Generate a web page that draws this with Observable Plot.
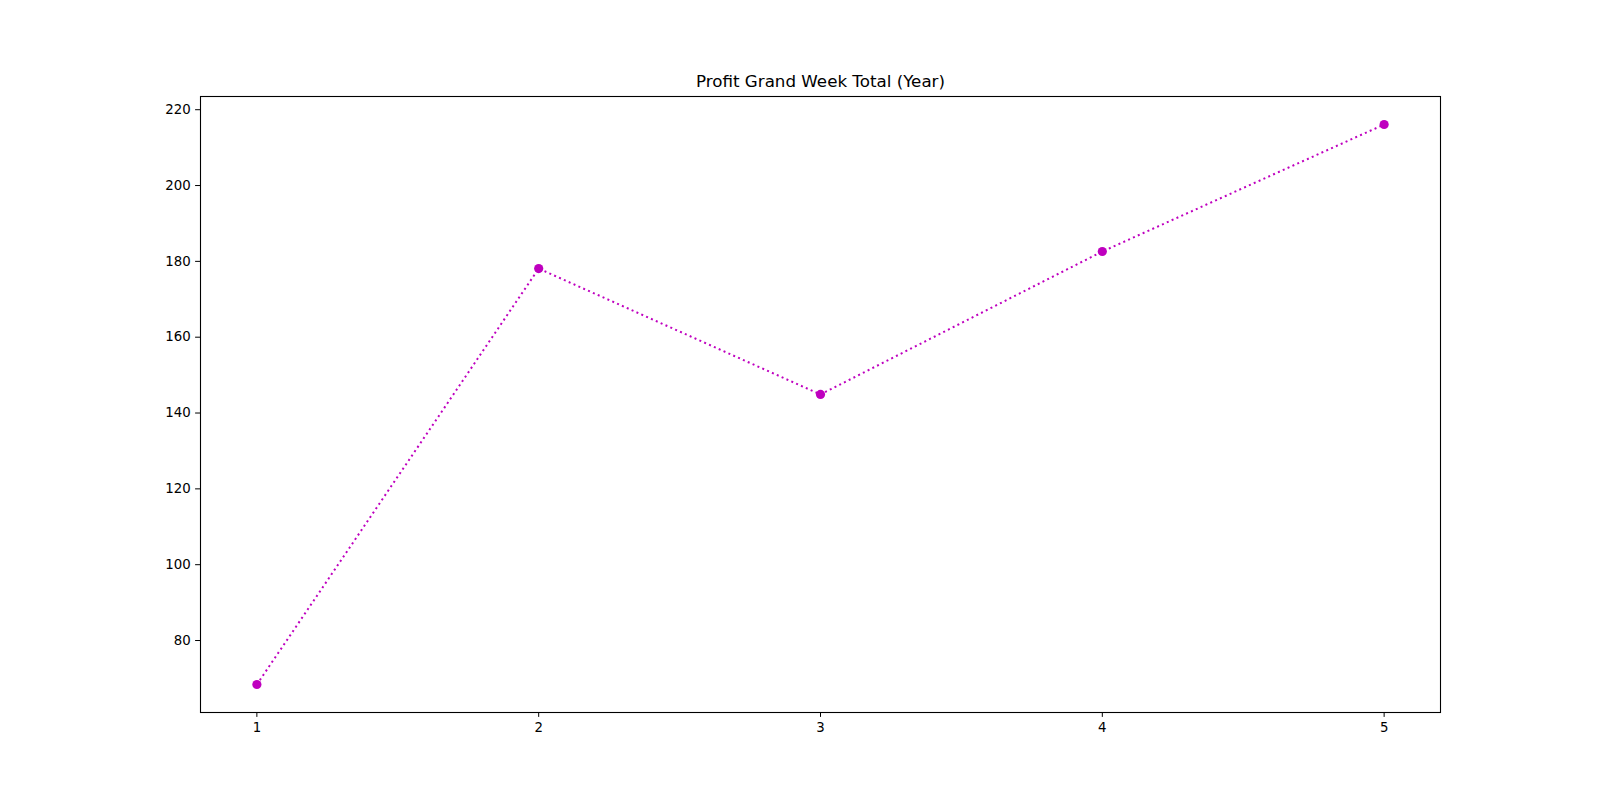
<!DOCTYPE html>
<html>
<head>
<meta charset="utf-8">
<script src="https://cdn.jsdelivr.net/npm/d3@7"></script>
<script src="https://cdn.jsdelivr.net/npm/@observablehq/plot@0.6"></script>
<style>
  html, body { margin: 0; padding: 0; background: #fff; }
  #chart svg { display: block; }
</style>
</head>
<body>
<div id="chart"></div>
<script>
const weeks = [1, 2, 3, 4, 5];
const profit = [68.4, 178.1, 144.9, 182.6, 216.1];
const xTicks = [1, 2, 3, 4, 5];
const yTicks = [80, 100, 120, 140, 160, 180, 200, 220];
const title = "Profit Grand Week Total (Year)";

const data = weeks.map((w, i) => ({week: w, profit: profit[i]}));

const [ymin, ymax] = d3.extent(profit);
const ypad = (ymax - ymin) * 0.05;
const [xmin, xmax] = d3.extent(weeks);
const xpad = (xmax - xmin) * 0.05;

const color = "#bf00bf";

const chart = Plot.plot({
  width: 1600,
  height: 800,
  marginLeft: 200,
  marginRight: 160,
  marginTop: 96,
  marginBottom: 88,
  style: {fontFamily: "DejaVu Sans", fontSize: "13.33px", color: "black", background: "white"},
  x: {domain: [xmin - xpad, xmax + xpad]},
  y: {domain: [ymin - ypad, ymax + ypad]},
  marks: [
    Plot.lineY(data, {x: "week", y: "profit", stroke: color, strokeWidth: 2, strokeDasharray: "2,3.3", strokeLinecap: "butt"}),
    Plot.dot(data, {x: "week", y: "profit", r: 4.6, fill: color, stroke: null}),
    Plot.frame({stroke: "black", strokeWidth: 1.1}),
    Plot.axisX({ticks: xTicks, tickSize: 4.9, tickPadding: 4.9, label: null, tickFormat: d => String(d), stroke: "black"}),
    Plot.axisY({ticks: yTicks, tickSize: 4.9, tickPadding: 4.9, label: null, tickFormat: d => String(d), stroke: "black"}),
    Plot.text([title], {frameAnchor: "top", lineAnchor: "bottom", dy: -10, fontSize: 16.7, fill: "black"})
  ]
});
document.getElementById("chart").appendChild(chart);
</script>
</body>
</html>
